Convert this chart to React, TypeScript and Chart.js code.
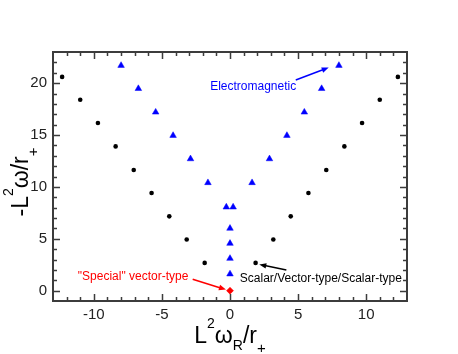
import React, { useEffect, useRef } from "react";
import { Chart, registerables } from "chart.js";

Chart.register(...registerables);

// ---- data ----
const scalarX = [-12.33, -11.0, -9.7, -8.4, -7.07, -5.76, -4.46, -3.18, -1.86, 1.88, 3.18, 4.46, 5.76, 7.07, 8.4, 9.7, 11.0, 12.33];
const scalarY = [20.6, 18.4, 16.15, 13.9, 11.63, 9.41, 7.16, 4.93, 2.67, 2.67, 4.93, 7.16, 9.41, 11.63, 13.9, 16.15, 18.4, 20.6];

const emX = [-8.0, -6.73, -5.46, -4.18, -2.9, -1.62, -0.27, 0.23, 0, 0, 0, 0, 1.62, 2.9, 4.18, 5.46, 6.73, 8.0];
const emY = [21.7, 19.47, 17.2, 14.95, 12.7, 10.4, 8.05, 8.05, 6.0, 4.55, 3.1, 1.6, 10.4, 12.7, 14.95, 17.2, 19.47, 21.7];

const specialX = [0];
const specialY = [0];

const xMin = -13;
const xMax = 13;
const yMin = -1;
const yMax = 23;
const xTickLabels = [-10, -5, 0, 5, 10];
const yTickLabels = [0, 5, 10, 15, 20];

// annotations (data coordinates)
const annTexts = ["Electromagnetic", "Scalar/Vector-type/Scalar-type", "\"Special\" vector-type"];
const annTextX = [1.7, 0.72, -7.12];
const annTextY = [19.66, 1.12, 1.38];
const annAlign = ["center", "left", "center"];
const annColors = ["#0000ff", "#000000", "#ff0000"];
const arrowFromX = [4.83, 4.14, -2.74];
const arrowFromY = [20.3, 1.99, 1.09];
const arrowToX = [7.25, 2.15, -0.3];
const arrowToY = [21.5, 2.52, 0.1];

const FONT = "'Liberation Sans', Arial, Helvetica, sans-serif";

type Seg = { t: string; s: number; dy: number };

const xTitle: Seg[] = [
  { t: "L", s: 23, dy: 0 },
  { t: "2", s: 14, dy: -15 },
  { t: "\u03C9", s: 23, dy: 0 },
  { t: "R", s: 14, dy: 7 },
  { t: "/r", s: 23, dy: 0 },
  { t: "+", s: 15, dy: 10 },
];
const yTitle: Seg[] = [
  { t: "-", s: 23, dy: 0 },
  { t: "L", s: 23, dy: 0 },
  { t: "2", s: 14, dy: -15 },
  { t: "\u03C9", s: 23, dy: 0 },
  { t: "/r", s: 23, dy: 0 },
  { t: "+", s: 15, dy: 10 },
];

function drawRich(ctx: CanvasRenderingContext2D, segs: Seg[], cx: number, by: number, rot: number) {
  ctx.save();
  ctx.translate(cx, by);
  ctx.rotate(rot);
  ctx.fillStyle = "#000";
  ctx.textBaseline = "alphabetic";
  ctx.textAlign = "left";
  let total = 0;
  const widths = segs.map((g) => {
    ctx.font = `${g.s}px ${FONT}`;
    const w = ctx.measureText(g.t).width;
    total += w;
    return w;
  });
  let x = -total / 2;
  segs.forEach((g, i) => {
    ctx.font = `${g.s}px ${FONT}`;
    ctx.fillText(g.t, x, g.dy);
    x += widths[i];
  });
  ctx.restore();
}

function drawArrow(ctx: CanvasRenderingContext2D, x1: number, y1: number, x2: number, y2: number, color: string) {
  const ang = Math.atan2(y2 - y1, x2 - x1);
  const hl = 7;
  const hw = 2.8;
  ctx.save();
  ctx.strokeStyle = color;
  ctx.fillStyle = color;
  ctx.lineWidth = 1.5;
  ctx.beginPath();
  ctx.moveTo(x1, y1);
  ctx.lineTo(x2 - Math.cos(ang) * hl * 0.8, y2 - Math.sin(ang) * hl * 0.8);
  ctx.stroke();
  ctx.beginPath();
  ctx.moveTo(x2, y2);
  ctx.lineTo(x2 - Math.cos(ang) * hl - Math.sin(ang) * hw, y2 - Math.sin(ang) * hl + Math.cos(ang) * hw);
  ctx.lineTo(x2 - Math.cos(ang) * hl + Math.sin(ang) * hw, y2 - Math.sin(ang) * hl - Math.cos(ang) * hw);
  ctx.closePath();
  ctx.fill();
  ctx.restore();
}

const framePlugin = {
  id: "framePlugin",
  afterDraw(chart: any) {
    const ctx: CanvasRenderingContext2D = chart.ctx;
    const { left, right, top, bottom } = chart.chartArea;
    const xs = chart.scales.x;
    const ys = chart.scales.y;
    ctx.save();
    ctx.strokeStyle = "#3c3c3c";
    ctx.lineWidth = 1.5;
    ctx.beginPath();
    for (let v = Math.ceil(xMin); v <= xMax; v++) {
      if (v === xMin || v === xMax) continue;
      const p = Math.round(xs.getPixelForValue(v)) + 0.5;
      const len = v % 5 === 0 ? 7 : 4;
      ctx.moveTo(p, bottom);
      ctx.lineTo(p, bottom - len);
      ctx.moveTo(p, top);
      ctx.lineTo(p, top + len);
    }
    for (let v = Math.ceil(yMin); v <= yMax; v++) {
      if (v === yMin || v === yMax) continue;
      const p = Math.round(ys.getPixelForValue(v)) + 0.5;
      const len = v % 5 === 0 ? 7 : 4;
      ctx.moveTo(left, p);
      ctx.lineTo(left + len, p);
      ctx.moveTo(right, p);
      ctx.lineTo(right - len, p);
    }
    ctx.stroke();
    ctx.lineWidth = 2;
    ctx.strokeRect(left, top, right - left, bottom - top);
    ctx.restore();

    // annotations
    ctx.save();
    ctx.font = `12px ${FONT}`;
    ctx.textBaseline = "middle";
    annTexts.forEach((t, i) => {
      ctx.fillStyle = annColors[i];
      ctx.textAlign = annAlign[i] as CanvasTextAlign;
      ctx.fillText(t, xs.getPixelForValue(annTextX[i]), ys.getPixelForValue(annTextY[i]));
      drawArrow(
        ctx,
        xs.getPixelForValue(arrowFromX[i]),
        ys.getPixelForValue(arrowFromY[i]),
        xs.getPixelForValue(arrowToX[i]),
        ys.getPixelForValue(arrowToY[i]),
        annColors[i]
      );
    });
    ctx.restore();

    // axis titles
    drawRich(ctx, xTitle, (left + right) / 2, 343, 0);
    drawRich(ctx, yTitle, 28, 182, -Math.PI / 2);
  },
};

export default function App() {
  const ref = useRef<HTMLCanvasElement | null>(null);
  useEffect(() => {
    if (!ref.current) return;
    const tickFont = { family: FONT, size: 15 };
    const chart = new Chart(ref.current, {
      type: "scatter",
      data: {
        datasets: [
          {
            label: "Scalar",
            data: scalarX.map((x, i) => ({ x, y: scalarY[i] })),
            pointStyle: "circle",
            pointRadius: 2.3,
            pointBackgroundColor: "#000",
            pointBorderWidth: 0,
          },
          {
            label: "Electromagnetic",
            data: emX.map((x, i) => ({ x, y: emY[i] })),
            pointStyle: "triangle",
            pointRadius: 3.8,
            pointBackgroundColor: "#0000ff",
            pointBorderColor: "#0000ff",
            pointBorderWidth: 0.5,
          },
          {
            label: "Special",
            data: specialX.map((x, i) => ({ x, y: specialY[i] })),
            pointStyle: "rectRot",
            pointRadius: 3.5,
            pointBackgroundColor: "#ff0000",
            pointBorderColor: "#ff0000",
            pointBorderWidth: 0.5,
          },
        ],
      },
      options: {
        animation: false,
        responsive: false,
        events: [],
        layout: { padding: { left: 8, right: 51, top: 52, bottom: 23 } },
        plugins: { legend: { display: false }, tooltip: { enabled: false } },
        scales: {
          x: {
            type: "linear",
            min: xMin,
            max: xMax,
            grid: { display: false, drawTicks: false },
            border: { display: false },
            ticks: { font: tickFont, color: "#222", padding: 5, maxRotation: 0, autoSkip: false },
            afterBuildTicks: (s: any) => {
              s.ticks = xTickLabels.map((v) => ({ value: v }));
            },
            afterFit: (s: any) => {
              s.height = 30;
            },
          },
          y: {
            type: "linear",
            min: yMin,
            max: yMax,
            grid: { display: false, drawTicks: false },
            border: { display: false },
            ticks: { font: tickFont, color: "#222", padding: 6, autoSkip: false },
            afterBuildTicks: (s: any) => {
              s.ticks = yTickLabels.map((v) => ({ value: v }));
            },
            afterFit: (s: any) => {
              s.width = 45;
            },
          },
        },
      },
      plugins: [framePlugin],
    } as any);
    return () => chart.destroy();
  }, []);
  return (
    <div style={{ position: "absolute", left: 0, top: 0, width: 458, height: 354, background: "#fff" }}>
      <canvas ref={ref} width={458} height={354} style={{ display: "block" }} />
    </div>
  );
}
